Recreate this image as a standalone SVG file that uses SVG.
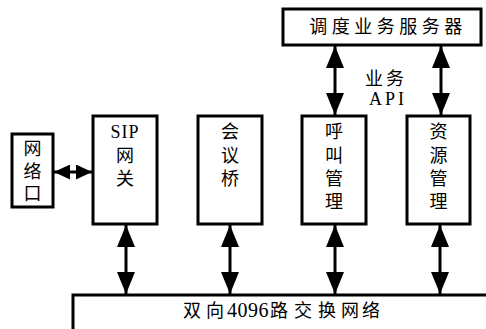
<svg xmlns="http://www.w3.org/2000/svg" width="486" height="329" viewBox="0 0 486 329">
<defs>
<marker id="ah" markerUnits="userSpaceOnUse" markerWidth="22" markerHeight="18" viewBox="0 0 22 18" refX="22" refY="9" orient="auto-start-reverse">
<path d="M0,0 L22,9 L0,18 Z" fill="#000"/>
</marker>
<marker id="ahs" markerUnits="userSpaceOnUse" markerWidth="16" markerHeight="15" viewBox="0 0 16 15" refX="16" refY="7.5" orient="auto-start-reverse">
<path d="M0,0 L16,7.5 L0,15 Z" fill="#000"/>
</marker>
<style>
.box{fill:#fff;stroke:#000;stroke-width:3}
.t{font-family:"Liberation Serif","Noto Sans CJK SC",serif;font-size:18px;fill:#000;text-anchor:middle}
.c{stroke:#000;stroke-width:3;fill:none;marker-start:url(#ah);marker-end:url(#ah)}
</style>
</defs>
<rect width="486" height="329" fill="#fff"/>
<g id="dispatch-server">
<rect class="box" x="283" y="9" width="198" height="36"/>
<text class="t" x="388" y="33" letter-spacing="4.5">调度业务服务器</text>
</g>
<g id="net-port">
<rect class="box" x="12" y="134" width="41" height="73"/>
<text class="t" x="32.5" y="155">网</text>
<text class="t" x="32.5" y="178">络</text>
<text class="t" x="32.5" y="200">口</text>
</g>
<g id="sip-gw">
<rect class="box" x="93" y="116" width="64" height="108"/>
<text class="t" x="125" y="138" letter-spacing="1">SIP</text>
<text class="t" x="125" y="162">网</text>
<text class="t" x="125" y="185">关</text>
</g>
<g id="conf-bridge">
<rect class="box" x="198" y="116" width="64" height="108"/>
<text class="t" x="230" y="138">会</text>
<text class="t" x="230" y="162">议</text>
<text class="t" x="230" y="185">桥</text>
</g>
<g id="call-mgmt">
<rect class="box" x="302" y="116" width="64" height="108"/>
<text class="t" x="334" y="138">呼</text>
<text class="t" x="334" y="162">叫</text>
<text class="t" x="334" y="185">管</text>
<text class="t" x="334" y="208">理</text>
</g>
<g id="res-mgmt">
<rect class="box" x="407" y="116" width="63" height="108"/>
<text class="t" x="438.5" y="138">资</text>
<text class="t" x="438.5" y="162">源</text>
<text class="t" x="438.5" y="185">管</text>
<text class="t" x="438.5" y="208">理</text>
</g>
<g id="switch-net">
<rect class="box" x="73" y="295" width="420" height="50"/>
<text class="t" y="317" style="text-anchor:start"><tspan x="183">双</tspan><tspan x="206">向</tspan><tspan x="227" style="font-size:20px" letter-spacing="0.5">4096</tspan><tspan x="270">路</tspan><tspan x="294">交</tspan><tspan x="318">换</tspan><tspan x="341">网</tspan><tspan x="362">络</tspan></text>
</g>
<g id="connectors">
<line class="c" x1="335" y1="46" x2="335" y2="115"/>
<line class="c" x1="441" y1="46" x2="441" y2="115"/>
<line x1="54" y1="172" x2="92" y2="172" stroke="#000" stroke-width="3" marker-start="url(#ahs)" marker-end="url(#ahs)"/>
<line class="c" x1="126" y1="225" x2="126" y2="294"/>
<line class="c" x1="230" y1="225" x2="230" y2="294"/>
<line class="c" x1="335" y1="225" x2="335" y2="294"/>
<line class="c" x1="440" y1="225" x2="440" y2="294"/>
</g>
<text class="t" x="386" y="85" letter-spacing="3">业务</text>
<text class="t" x="388" y="105" letter-spacing="3">API</text>
</svg>
